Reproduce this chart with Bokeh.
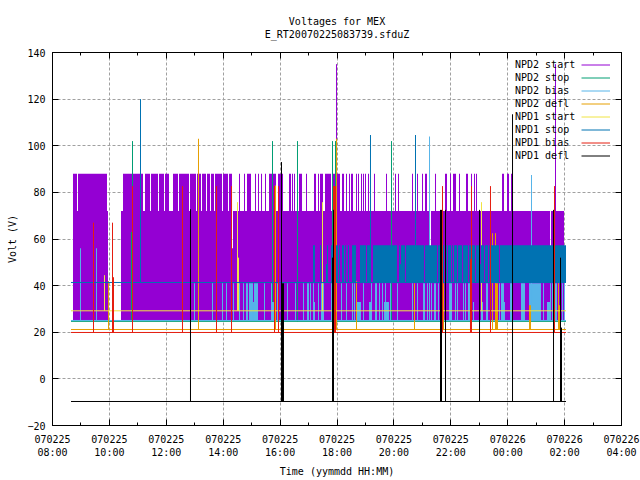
from bokeh.plotting import figure
from bokeh.models import (Range1d, FixedTicker, LinearAxis, Legend, LegendItem, Title,
                          CustomJSTickFormatter)
from bokeh.core.properties import value
from bokeh.embed import file_html
from bokeh.resources import INLINE

# time is in hours after 070225 08:00
names = ["NPD2 start", "NPD2 stop", "NPD2 bias", "NPD2 defl", "NPD1 start", "NPD1 stop", "NPD1 bias", "NPD1 defl"]
colors = ["#9400D3", "#009E73", "#56B4E9", "#E69F00", "#F0E442", "#0072B2", "#E51E10", "#000000"]
hour_ticks = list(range(0, 21, 2))
tick_dates = ["070225"] * 8 + ["070226"] * 3
tick_times = ["08:00", "10:00", "12:00", "14:00", "16:00", "18:00", "20:00", "22:00", "00:00", "02:00", "04:00"]
volt_ticks = list(range(-20, 141, 20))

t_begin, t_end = 0.668, 18.067

# NPD2 start
start_low, start_mid, start_high = 25.0, 72.0, 88.0
start_mid_t0 = [0.738, 2.425, 6.362, 13.322, 17.540]
start_mid_t1 = [1.968, 6.327, 13.287, 17.505, 17.997]
start_notch_t0 = [6.327, 13.287, 17.505]
start_notch_t1 = [6.362, 13.322, 17.540]
start_notch_top = [56.0, 57.0, 57.0]
start_high_t0 = [0.738, 0.914, 2.496, 3.269, 3.480, 3.761, 3.972, 4.253, 4.464, 4.851, 5.097, 5.273, 5.448, 5.589, 5.729,
                 6.011, 6.222, 6.573, 6.749, 6.854, 7.135, 7.241, 7.346, 7.487, 7.628, 7.768, 7.944, 8.331, 8.436, 8.506,
                 8.682, 8.928, 9.209, 9.350, 9.420, 9.596, 9.842, 10.194, 10.334, 10.440, 10.510, 10.686, 10.756, 10.861,
                 10.932, 11.002, 11.107, 11.318, 11.740, 11.916, 12.056, 12.162, 12.654, 12.830, 13.006, 13.111, 13.462,
                 13.814, 13.990, 14.095, 14.306, 14.552, 14.728, 14.833, 14.904, 15.818, 15.993, 16.134]
start_high_t1 = [0.879, 1.933, 3.199, 3.445, 3.726, 3.937, 4.113, 4.429, 4.816, 5.062, 5.237, 5.413, 5.554, 5.694, 5.976,
                 6.186, 6.327, 6.608, 6.784, 6.995, 7.171, 7.276, 7.382, 7.522, 7.733, 7.874, 8.120, 8.401, 8.471, 8.541,
                 8.788, 8.963, 9.280, 9.385, 9.526, 9.807, 10.123, 10.264, 10.369, 10.475, 10.580, 10.721, 10.791, 10.897,
                 10.967, 11.037, 11.143, 11.353, 11.775, 11.951, 12.092, 12.197, 12.689, 12.865, 13.041, 13.181, 13.498,
                 13.884, 14.025, 14.201, 14.341, 14.622, 14.763, 14.868, 14.939, 15.888, 16.064, 16.169]
start_spike_t = [10.000, 17.698]
start_spike_v = [135.0, 135.0]

# NPD2 stop
stop2_base = 24.67
stop2_t = [2.794, 2.830, 7.751, 8.629, 9.860, 9.965, 11.933]
stop2_v = [63.0, 102.0, 102.0, 102.0, 102.0, 102.0, 102.0]

# NPD2 bias
bias2_base = 25.05
bias2_t0 = [0.984, 1.547, 4.991, 5.132, 5.624, 5.976, 6.116, 6.362, 6.573, 6.714, 6.819, 6.925, 7.065, 7.100, 7.452, 7.698,
            7.733, 7.909, 8.049, 8.260, 8.541, 8.823, 8.963, 9.069, 9.174, 9.209, 9.350, 9.455, 9.807, 10.158, 10.334,
            10.545, 10.615, 10.721, 10.932, 11.143, 11.213, 11.353, 11.494, 11.600, 11.670, 11.705, 11.881, 12.127,
            12.654, 12.830, 13.041, 13.181, 13.252, 13.322, 13.427, 13.568, 13.673, 13.955, 14.165, 14.236, 14.447,
            14.517, 14.622, 14.798, 15.079, 15.115, 15.255, 15.712, 15.782, 15.888, 16.099, 16.485, 16.767, 16.837,
            17.259, 17.399, 17.505, 17.575, 17.680, 17.786, 17.927, 17.997]
bias2_t1 = [1.019, 1.582, 5.026, 5.167, 5.659, 6.011, 6.151, 6.397, 6.608, 6.749, 6.889, 7.065, 7.100, 7.241, 7.487, 7.733,
            7.803, 7.944, 8.085, 8.295, 8.577, 8.858, 9.034, 9.104, 9.209, 9.244, 9.385, 9.561, 9.842, 10.194, 10.369,
            10.580, 10.650, 10.861, 10.967, 11.248, 11.248, 11.424, 11.529, 11.635, 11.846, 11.740, 11.916, 12.162,
            12.689, 12.865, 13.111, 13.216, 13.287, 13.357, 13.498, 13.603, 13.708, 14.060, 14.201, 14.271, 14.482,
            14.552, 14.693, 14.833, 15.115, 15.150, 15.326, 15.747, 15.888, 15.923, 16.169, 16.626, 17.188, 16.872,
            17.294, 17.505, 17.540, 17.610, 17.751, 17.821, 17.962, 18.032]
bias2_v = [56, 56, 41, 41, 41, 41, 41, 41, 41, 41, 41, 41, 33, 41, 41, 41,
           33, 41, 41, 41, 41, 41, 41, 41, 41, 33, 41, 41, 41, 41, 41,
           41, 41, 33, 41, 33, 41, 41, 41, 41, 33, 41, 41, 41,
           41, 41, 41, 41, 104, 41, 41, 41, 41, 41, 41, 41, 41,
           41, 41, 33, 41, 33, 41, 41, 41, 33, 41, 41, 41, 87.5,
           41, 33, 41, 41, 41, 41, 41, 41]

# NPD2 defl
defl2_base = 21.18
defl2_t = [1.986, 5.149, 7.856, 9.895, 9.930, 9.965, 10.000, 10.703, 12.742, 13.761, 15.484, 15.589, 15.624, 15.659,
           16.785, 16.820, 17.804, 17.839]
defl2_v = [42, 103, 83, 41, 41, 41, 103, 42, 41, 41, 62.5, 62.5, 41, 41, 31.6, 31.6, 41, 31.6]

# NPD1 start
start1_base = 29.2
start1_t = [1.845, 6.520, 6.555, 9.508, 15.097]
start1_v = [44.5, 75.8, 52, 75.8, 75.8]

# NPD1 stop
stop1_low, stop1_high = 41.35, 57.3
stop1_t0 = [9.174, 9.420, 9.666, 9.807, 10.088, 10.194, 10.299, 10.404, 10.545, 10.826, 11.072, 11.283, 12.197, 12.267,
            12.443, 13.111, 13.568, 13.814, 13.920, 14.060, 14.130, 14.271, 14.447, 14.658, 14.904, 15.079, 15.220,
            15.361, 15.747]
stop1_t1 = [9.244, 9.455, 9.701, 10.053, 10.123, 10.264, 10.334, 10.440, 10.686, 11.037, 11.213, 12.127, 12.232, 12.408,
            13.076, 13.533, 13.779, 13.884, 14.025, 14.095, 14.236, 14.412, 14.622, 14.868, 15.044, 15.185, 15.326,
            15.712, 18.067]
stop1_part_t0 = [9.631, 12.232, 15.044]
stop1_part_t1 = [9.666, 12.267, 15.079]
stop1_part_v = [49.2, 49.2, 49.2]
stop1_t = [3.111, 11.195, 12.777]
stop1_v = [120, 104.6, 104.6]

# NPD1 bias
bias1_base = 19.9
bias1_t = [1.459, 2.127, 2.162, 2.830, 4.587, 5.782, 6.310, 7.821, 7.961, 9.895, 9.930, 9.965, 13.726, 14.710, 14.745, 15.413, 17.663]
bias1_v = [67, 67, 43.6, 82.7, 82.7, 82.7, 82.7, 82.7, 82.7, 82.7, 82.7, 82.7, 82.7, 51.4, 82.7, 82.7, 82.7]

# NPD1 defl
defl1_base = -9.7
defl1_t = [4.868, 8.067, 8.102, 8.137, 9.860, 9.895, 13.656, 13.691, 13.832, 15.027, 16.187, 17.628, 17.874, 17.909]
defl1_v = [72.8, 93, 41, 41, 52, 72.5, 72.5, 72.5, 72.5, 72.5, 113.5, 72.5, 52, 22]

FONT = "DejaVu Sans Mono"
FS = "10px"
SNAP = 0.0176  # half a pixel, in hours: keeps one-pixel lines on whole pixels

p = figure(frame_width=569, frame_height=373, width=640, height=480, output_backend="svg", toolbar_location=None,
           x_range=Range1d(0, 20), y_range=Range1d(-20, 140),
           min_border_left=52, min_border_top=52, min_border_right=19, min_border_bottom=55,
           x_axis_label="Time (yymmdd HH:MM)", y_axis_label="Volt (V)")
p.background_fill_color = "white"
p.outline_line_color = "black"
p.outline_line_width = 1

labels = {h: f"{d}\n{t}" for h, d, t in zip(hour_ticks, tick_dates, tick_times)}
x_ticker = FixedTicker(ticks=hour_ticks, minor_ticks=list(range(1, 20, 2)))
y_ticker = FixedTicker(ticks=volt_ticks, minor_ticks=[])
blank = CustomJSTickFormatter(code="return ''")

for ax, tk in ((p.xaxis[0], x_ticker), (p.yaxis[0], y_ticker)):
    ax.ticker = tk
    ax.major_tick_in, ax.major_tick_out = 6, 0
    ax.minor_tick_in, ax.minor_tick_out = 3, 0
    ax.major_label_text_font = FONT
    ax.major_label_text_font_size = FS
    ax.major_label_text_color = "black"
    ax.axis_label_text_font = FONT
    ax.axis_label_text_font_size = FS
    ax.axis_label_text_font_style = "normal"
    ax.axis_label_text_color = "black"
    ax.axis_line_color = "black"
p.xaxis[0].major_label_overrides = labels
p.xaxis[0].major_label_standoff = 8
p.yaxis[0].major_label_standoff = 7
p.xaxis[0].axis_label_standoff = 5
p.yaxis[0].axis_label_standoff = 6

top_ax = LinearAxis(ticker=x_ticker, formatter=blank, major_tick_in=6, major_tick_out=0, minor_tick_in=3, minor_tick_out=0,
                    major_label_standoff=0)
right_ax = LinearAxis(ticker=y_ticker, formatter=blank, major_tick_in=6, major_tick_out=0, minor_tick_in=3, minor_tick_out=0,
                      major_label_standoff=0)
p.add_layout(top_ax, "above")
p.add_layout(right_ax, "right")

for g in (p.xgrid[0], p.ygrid[0]):
    g.grid_line_color = "#a0a0a0"
    g.grid_line_dash = "3 2"
    g.grid_line_width = 1
p.xgrid[0].ticker = x_ticker
p.ygrid[0].ticker = y_ticker

title_style = dict(align="center", text_font=FONT, text_font_size=FS, text_font_style="normal", text_color="black")
p.add_layout(Title(text=" ", standoff=0, **title_style), "above")
p.add_layout(Title(text="E_RT20070225083739.sfduZ", standoff=0, **title_style), "above")
p.add_layout(Title(text="Voltages for MEX", standoff=0, **title_style), "above")


def shifted(ts):
    return [t - SNAP for t in ts]


def spikes(base, ts, vs, color, t0=None, t1=None):
    x0 = shifted(ts)
    x1 = shifted(ts)
    y0 = [base] * len(ts)
    y1 = list(vs)
    if t0 is not None:
        x0.append(t0 - SNAP)
        x1.append(t1 - SNAP)
        y0.append(base)
        y1.append(base)
    return p.segment(x0=x0, y0=y0, x1=x1, y1=y1, line_color=color, line_width=1)


def bars(t0, t1, low, tops, color):
    tops = tops if isinstance(tops, list) else [tops] * len(t0)
    return p.quad(left=shifted(t0), right=shifted(t1), bottom=[low] * len(t0), top=tops, fill_color=color, line_color=None)


# NPD2 start
bars(start_mid_t0, start_mid_t1, start_low, start_mid, colors[0])
bars(start_notch_t0, start_notch_t1, start_low, start_notch_top, colors[0])
bars(start_high_t0, start_high_t1, start_mid, start_high, colors[0])
r0 = spikes(start_mid, start_spike_t, start_spike_v, colors[0])
# NPD2 stop
r1 = spikes(stop2_base, stop2_t, stop2_v, colors[1], t_begin, t_end)
# NPD2 bias
bars(bias2_t0, bias2_t1, bias2_base, bias2_v, colors[2])
r2 = spikes(bias2_base, [], [], colors[2], t_begin, t_end)
# NPD2 defl
r3 = spikes(defl2_base, defl2_t, defl2_v, colors[3], t_begin, t_end)
# NPD1 start
r4 = spikes(start1_base, start1_t, start1_v, colors[4], t_begin, t_end)
# NPD1 stop
bars(stop1_t0, stop1_t1, stop1_low, stop1_high, colors[5])
bars(stop1_part_t0, stop1_part_t1, stop1_low, stop1_part_v, colors[5])
r5 = spikes(stop1_low, stop1_t, stop1_v, colors[5], t_begin, t_end)
# NPD1 bias
r6 = spikes(bias1_base, bias1_t, bias1_v, colors[6], t_begin, t_end)
# NPD1 defl
r7 = spikes(defl1_base, defl1_t, defl1_v, colors[7], t_begin, t_end)

rs = [r0, r1, r2, r3, r4, r5, r6, r7]
key_legend = Legend(items=[LegendItem(label=value(" "), renderers=[r]) for r in rs],
                    location=(529, 263.5), margin=0, padding=0, spacing=0, glyph_width=29, glyph_height=13,
                    label_height=13, label_width=0, label_standoff=0, label_text_font=FONT, label_text_font_size="1px",
                    border_line_color=None, background_fill_color=None, level="underlay")
text_legend = Legend(items=[LegendItem(label=value(n), renderers=[r]) for n, r in zip(names, rs)],
                     location=(463, 263), margin=0, padding=0, spacing=0, glyph_width=0, glyph_height=13,
                     label_height=13, label_standoff=0, label_text_font=FONT, label_text_font_size=FS,
                     label_text_color="black", border_line_color=None, background_fill_color=None, level="underlay")
p.add_layout(key_legend, "center")
p.add_layout(text_legend, "center")

open("out.html", "w").write(file_html(p, INLINE))
